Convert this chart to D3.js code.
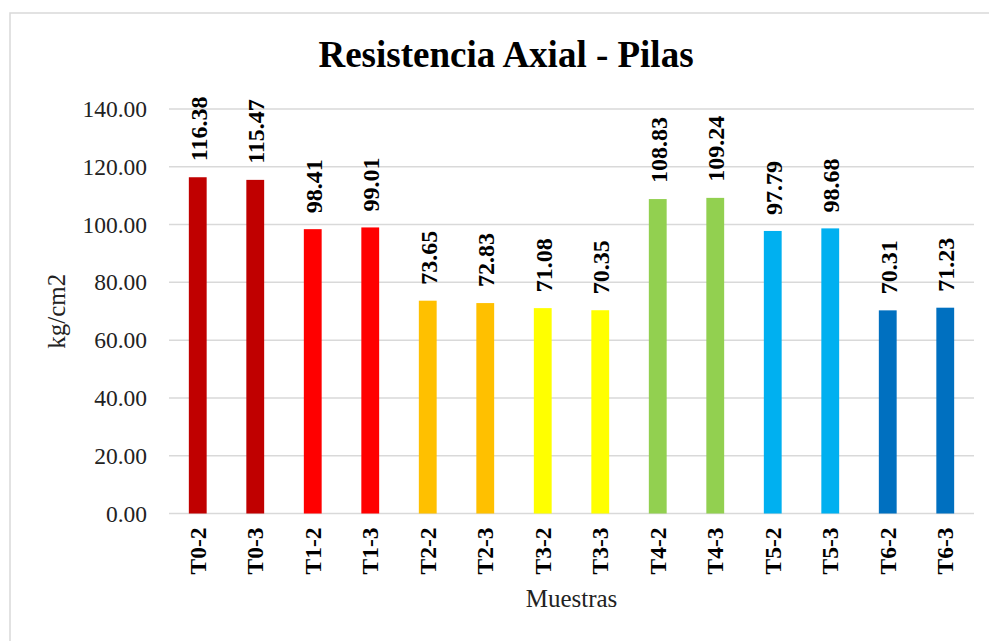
<!DOCTYPE html>
<html>
<head>
<meta charset="utf-8">
<script src="https://cdn.jsdelivr.net/npm/d3@7"></script>
<style>
  body { margin: 0; background: #fff; }
</style>
</head>
<body>
<div id="chart"></div>
<script>
// data
const muestras = ["T0-2", "T0-3", "T1-2", "T1-3", "T2-2", "T2-3", "T3-2", "T3-3",
                  "T4-2", "T4-3", "T5-2", "T5-3", "T6-2", "T6-3"];
const resistencia = [116.38, 115.47, 98.41, 99.01, 73.65, 72.83, 71.08, 70.35,
                     108.83, 109.24, 97.79, 98.68, 70.31, 71.23];
const grupoColores = ["#C00000", "#C00000", "#FF0000", "#FF0000", "#FFC000", "#FFC000",
                      "#FFFF00", "#FFFF00", "#92D050", "#92D050", "#00B0F0", "#00B0F0",
                      "#0070C0", "#0070C0"];
const yTicks = [0, 20, 40, 60, 80, 100, 120, 140];

const width = 989;
const height = 641;
const margin = { top: 109, right: 15, bottom: 127.5, left: 169 };
const serif = 'Liberation Serif';

const rows = muestras.map((m, i) => ({ name: m, value: resistencia[i], color: grupoColores[i] }));

const svg = d3.select('#chart').append('svg')
    .attr('width', width)
    .attr('height', height)
    .attr('font-family', serif);

// outer frame of the chart
svg.append('rect')
    .attr('x', 10)
    .attr('y', 13)
    .attr('width', 1000)
    .attr('height', 700)
    .attr('fill', 'none')
    .attr('stroke', '#d9d9d9')
    .attr('stroke-width', 1.5);

const x = d3.scaleBand()
    .domain(muestras)
    .range([margin.left, width - margin.right])
    .paddingInner(0.69)
    .paddingOuter(0.345);

const y = d3.scaleLinear()
    .domain([0, 140])
    .range([height - margin.bottom, margin.top]);

// gridlines
svg.append('g')
    .selectAll('line')
    .data(yTicks)
    .join('line')
    .attr('x1', margin.left)
    .attr('x2', width - margin.right)
    .attr('y1', d => y(d))
    .attr('y2', d => y(d))
    .attr('stroke', '#d9d9d9')
    .attr('stroke-width', 1.5);

// y axis labels
const yAxis = svg.append('g')
    .attr('transform', `translate(${margin.left - 22},0)`)
    .call(d3.axisLeft(y).tickValues(yTicks).tickFormat(d3.format('.2f')).tickSize(0).tickPadding(0));
yAxis.attr('font-family', serif);
yAxis.select('.domain').remove();
yAxis.selectAll('text')
    .attr('font-family', serif)
    .attr('font-size', 23.5)
    .attr('fill', '#222');

// bars
svg.append('g')
    .selectAll('rect')
    .data(rows)
    .join('rect')
    .attr('x', d => x(d.name))
    .attr('width', x.bandwidth())
    .attr('y', d => y(d.value))
    .attr('height', d => y(0) - y(d.value))
    .attr('fill', d => d.color);

// value labels, rotated
svg.append('g')
    .selectAll('text')
    .data(rows)
    .join('text')
    .attr('transform', d => `translate(${x(d.name) + x.bandwidth() / 2 + 9},${y(d.value) - 16}) rotate(-90)`)
    .attr('font-family', serif)
    .attr('font-size', 24)
    .attr('font-weight', 'bold')
    .attr('fill', '#000')
    .text(d => d3.format('.2f')(d.value));

// category labels
const xAxis = svg.append('g')
    .attr('transform', `translate(0,${y(0)})`)
    .call(d3.axisBottom(x).tickSize(0).tickPadding(0));
xAxis.attr('font-family', serif);
xAxis.select('.domain').remove();
xAxis.selectAll('text')
    .attr('font-family', serif)
    .attr('font-size', 23.5)
    .attr('font-weight', 'bold')
    .attr('fill', '#000')
    .attr('text-anchor', 'end')
    .attr('dy', null)
    .attr('y', 0)
    .attr('transform', 'translate(8,14) rotate(-90)');

// titles
svg.append('text')
    .attr('x', 506)
    .attr('y', 67)
    .attr('text-anchor', 'middle')
    .attr('font-family', serif)
    .attr('font-size', 37)
    .attr('font-weight', 'bold')
    .text('Resistencia Axial - Pilas');

svg.append('text')
    .attr('transform', `translate(65,${(y(0) + y(140)) / 2}) rotate(-90)`)
    .attr('text-anchor', 'middle')
    .attr('font-family', serif)
    .attr('font-size', 25)
    .attr('fill', '#222')
    .text('kg/cm2');

svg.append('text')
    .attr('x', (margin.left + width - margin.right) / 2)
    .attr('y', 607)
    .attr('text-anchor', 'middle')
    .attr('font-family', serif)
    .attr('font-size', 25)
    .attr('fill', '#222')
    .text('Muestras');
</script>
</body>
</html>
